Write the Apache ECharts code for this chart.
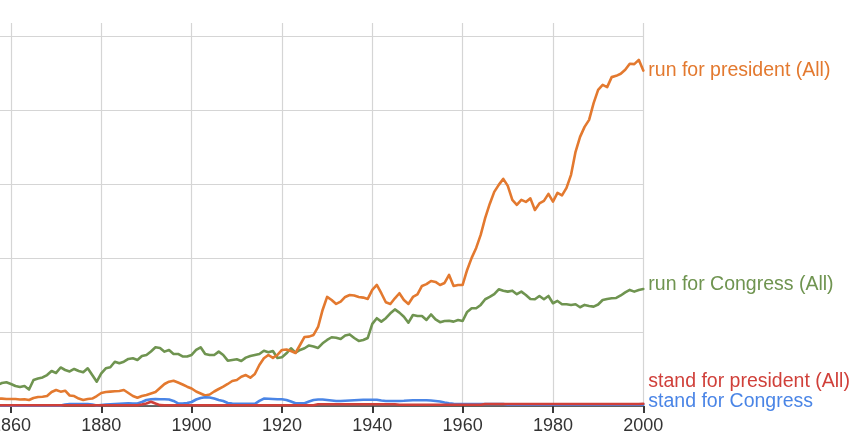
<!DOCTYPE html>
<html><head><meta charset="utf-8">
<script src="https://cdn.jsdelivr.net/npm/echarts@6/dist/echarts.min.js"></script>
<style>html,body{margin:0;padding:0;background:#fff}#c{width:861px;height:440px}</style>
</head><body><div id="c"></div>
<script>
const startYear = 1857;
const seriesNames = ['run for president (All)', 'run for Congress (All)', 'stand for president (All)', 'stand for Congress'];
const xTickValues = [1840, 1860, 1880, 1900, 1920, 1940, 1960, 1980, 2000];

const runForPresident = [
0.10,0.10,0.095,0.095,0.095,0.088,0.091,0.081,0.108,0.122,0.126,0.135,0.189,0.217,0.194,0.207,0.142,0.135,0.101,0.081,
0.095,0.101,0.135,0.176,0.189,0.194,0.199,0.203,0.217,0.176,0.135,0.112,0.135,0.149,0.169,0.189,0.244,0.298,0.329,0.342,
0.318,0.291,0.261,0.237,0.196,0.169,0.142,0.156,0.196,0.230,0.261,0.298,0.338,0.352,0.396,0.419,0.383,0.433,0.555,0.645,
0.690,0.650,0.690,0.758,0.765,0.744,0.717,0.825,0.934,0.938,0.961,1.069,1.299,1.475,1.434,1.380,1.411,1.475,1.502,1.495,
1.475,1.466,1.448,1.570,1.637,1.525,1.403,1.380,1.457,1.525,1.434,1.380,1.475,1.509,1.624,1.648,1.691,1.678,1.637,1.664,
1.773,1.624,1.637,1.637,1.840,2.003,2.138,2.314,2.544,2.733,2.896,2.991,3.072,2.977,2.788,2.720,2.788,2.760,2.808,2.652,
2.740,2.774,2.869,2.765,2.882,2.848,2.950,3.126,3.437,3.640,3.775,3.870,4.096,4.276,4.344,4.313,4.448,4.465,4.493,4.547,
4.628,4.624,4.682,4.537];

const runForCongress = [
0.284,0.311,0.321,0.298,0.271,0.257,0.271,0.223,0.352,0.372,0.386,0.419,0.474,0.447,0.521,0.487,0.467,0.501,0.474,0.456,
0.510,0.419,0.329,0.440,0.510,0.524,0.599,0.578,0.599,0.636,0.645,0.622,0.677,0.690,0.737,0.794,0.785,0.735,0.758,0.704,
0.704,0.670,0.670,0.690,0.758,0.794,0.704,0.690,0.690,0.735,0.690,0.613,0.622,0.632,0.609,0.654,0.677,0.690,0.704,0.748,
0.727,0.744,0.650,0.659,0.713,0.781,0.721,0.758,0.781,0.819,0.805,0.785,0.848,0.893,0.930,0.924,0.907,0.954,0.968,0.920,
0.880,0.893,0.920,1.110,1.187,1.141,1.187,1.254,1.306,1.263,1.208,1.127,1.231,1.218,1.218,1.164,1.238,1.171,1.133,1.150,
1.154,1.141,1.164,1.150,1.272,1.322,1.322,1.367,1.444,1.475,1.512,1.579,1.560,1.547,1.560,1.512,1.547,1.502,1.448,1.444,
1.488,1.444,1.488,1.390,1.421,1.376,1.376,1.367,1.376,1.336,1.367,1.353,1.344,1.373,1.434,1.448,1.457,1.461,1.495,1.536,
1.570,1.547,1.570,1.583];

const standForPresident = [
0.010,0.010,0.010,0.010,0.010,0.010,0.010,0.010,0.010,0.010,0.010,0.010,0.010,0.010,0.010,0.010,0.010,0.010,0.010,0.010,
0.010,0.010,0.010,0.010,0.010,0.010,0.010,0.010,0.010,0.010,0.010,0.010,0.020,0.034,0.058,0.034,0.012,0.010,0.010,0.010,
0.010,0.010,0.010,0.010,0.010,0.010,0.010,0.010,0.010,0.010,0.010,0.010,0.010,0.010,0.010,0.010,0.010,0.010,0.010,0.010,
0.010,0.010,0.010,0.010,0.010,0.010,0.010,0.010,0.010,0.010,0.010,0.023,0.023,0.023,0.023,0.023,0.023,0.023,0.023,0.023,
0.023,0.023,0.023,0.023,0.023,0.023,0.023,0.023,0.023,0.016,0.016,0.016,0.016,0.016,0.016,0.016,0.016,0.016,0.016,0.016,
0.016,0.016,0.016,0.016,0.016,0.016,0.016,0.016,0.027,0.027,0.027,0.027,0.027,0.027,0.027,0.027,0.027,0.027,0.027,0.027,
0.027,0.027,0.027,0.027,0.027,0.027,0.027,0.027,0.027,0.027,0.027,0.027,0.027,0.027,0.027,0.027,0.027,0.027,0.027,0.027,
0.027,0.027,0.027,0.031];

const standForCongress = [
0.005,0.005,0.005,0.005,0.005,0.005,0.005,0.005,0.005,0.005,0.005,0.005,0.005,0.005,0.005,0.020,0.027,0.027,0.027,0.027,
0.027,0.020,0.007,0.014,0.020,0.023,0.027,0.031,0.034,0.037,0.034,0.034,0.054,0.081,0.091,0.095,0.091,0.091,0.088,0.068,
0.034,0.034,0.041,0.054,0.088,0.108,0.118,0.115,0.101,0.081,0.068,0.041,0.034,0.030,0.030,0.030,0.030,0.030,0.068,0.101,
0.099,0.095,0.092,0.091,0.081,0.061,0.037,0.037,0.037,0.061,0.081,0.088,0.088,0.081,0.074,0.068,0.068,0.072,0.074,0.077,
0.081,0.084,0.085,0.085,0.085,0.074,0.068,0.068,0.068,0.068,0.070,0.074,0.077,0.077,0.077,0.077,0.074,0.068,0.061,0.047,
0.037,0.030,0.027,0.027,0.027,0.027,0.027,0.027,0.027,0.027,0.027,0.027,0.027,0.018,0.018,0.018,0.018,0.018,0.018,0.018,
0.018,0.018,0.018,0.018,0.018,0.018,0.018,0.018,0.018,0.018,0.018,0.018,0.018,0.018,0.018,0.018,0.018,0.018,0.018,0.018,
0.018,0.018,0.018,0.018];

const colors = ['#e3792f', '#6f9450', '#d0403a', '#4a85e6'];
const labelOffsets = [[0, 0], [0, -4], [0, -22], [0, -3]];

function pairs(arr) { return arr.map((v, i) => [startYear + i, v]); }

const chart = echarts.init(document.getElementById('c'), null, { renderer: 'canvas' });
const font = 'Liberation Sans, Arial, sans-serif';
const allData = [runForPresident, runForCongress, standForPresident, standForCongress];
const order = [1, 0, 3, 2];
const series = order.map(k => ({
  name: seriesNames[k],
  type: 'line',
  data: pairs(allData[k]),
  showSymbol: false,
  symbol: 'none',
  smooth: false,
  lineStyle: { width: 2.6, color: colors[k], join: 'round', cap: 'round' },
  itemStyle: { color: colors[k] },
  endLabel: {
    show: true,
    formatter: seriesNames[k],
    color: colors[k],
    fontSize: 19.5,
    fontFamily: font,
    distance: 5,
    offset: labelOffsets[k]
  }
}));

chart.setOption({
  animation: false,
  backgroundColor: '#ffffff',
  grid: { left: -79.4, right: 217.7, top: 23, bottom: 34, containLabel: false, outerBoundsMode: 'none' },
  xAxis: {
    type: 'value', min: xTickValues[0], max: xTickValues[xTickValues.length - 1], interval: 20,
    axisLine: { show: true, onZero: false, lineStyle: { color: '#3a3a3a', width: 1.5 } },
    axisTick: { show: true, length: 7, lineStyle: { color: '#3a3a3a', width: 2 } },
    axisLabel: { fontSize: 18, color: '#333', margin: 11, fontFamily: font, formatter: v => String(v), hideOverlap: false },
    splitLine: { show: true, lineStyle: { color: '#d5d5d5', width: 1.2 } }
  },
  yAxis: {
    type: 'value', min: 0, max: 5.18, interval: 1,
    axisLine: { show: false }, axisTick: { show: false }, axisLabel: { show: false },
    splitLine: { show: true, showMaxLine: false, lineStyle: { color: '#d5d5d5', width: 1.2 } }
  },
  series: series
});
</script></body></html>
